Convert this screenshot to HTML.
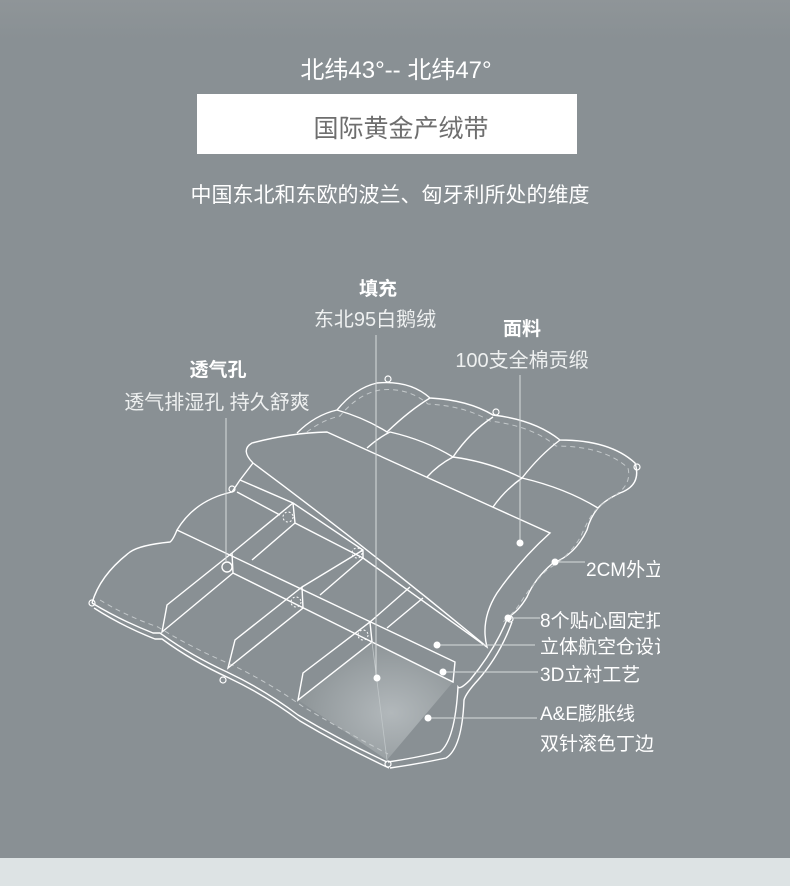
<!DOCTYPE html>
<html><head><meta charset="utf-8">
<style>
html,body{margin:0;padding:0}
body{width:790px;height:886px;position:relative;overflow:hidden;background:#899094;font-family:"Liberation Sans","Noto Sans CJK SC",sans-serif;color:#fff}
.t{position:absolute;white-space:nowrap}
.c{transform:translateX(-50%)}
</style></head><body>
<div style="position:absolute;left:0;top:0;width:790px;height:40px;background:linear-gradient(#8f9598,#899094)"></div>
<div class="t c" style="left:396px;top:50px;font-size:24px">北纬43°-- 北纬47°</div>
<div style="position:absolute;left:197px;top:94px;width:380px;height:60px;background:#fff"></div>
<div class="t c" style="left:401px;top:109px;font-size:25px;color:#6e6e6e">国际黄金产绒带</div>
<div class="t c" style="left:390px;top:179px;font-size:21px">中国东北和东欧的波兰、匈牙利所处的维度</div>

<div class="t c" style="left:378px;top:274px;font-size:19px;font-weight:bold">填充</div>
<div class="t c" style="left:375px;top:303px;font-size:20px;color:#eef0f0">东北95白鹅绒</div>
<div class="t c" style="left:522px;top:314px;font-size:19px;font-weight:bold">面料</div>
<div class="t c" style="left:522px;top:344px;font-size:20px;color:#eef0f0">100支全棉贡缎</div>
<div class="t c" style="left:218px;top:355px;font-size:19px;font-weight:bold">透气孔</div>
<div class="t c" style="left:217px;top:386px;font-size:20px;color:#eef0f0">透气排湿孔 持久舒爽</div>

<div style="position:absolute;left:0;top:0;width:660px;height:886px;overflow:hidden">
<div class="t" style="left:586px;top:555px;font-size:19px">2CM外立边</div>
<div class="t" style="left:540px;top:606px;font-size:19px">8个贴心固定扣</div>
<div class="t" style="left:540px;top:632px;font-size:19px">立体航空仓设计</div>
<div class="t" style="left:540px;top:660px;font-size:19px">3D立衬工艺</div>
<div class="t" style="left:540px;top:699px;font-size:19px">A&amp;E膨胀线</div>
<div class="t" style="left:540px;top:729px;font-size:19px">双针滚色丁边</div>
</div>

<svg width="790" height="886" style="position:absolute;left:0;top:0" fill="none" stroke="#fff" stroke-width="1.4">
<defs><radialGradient id="g" cx="0.6" cy="0.6" r="0.6"><stop offset="0" stop-color="#b2b8bb"/><stop offset="1" stop-color="#8e9598"/></radialGradient></defs>
<!-- fill area -->
<path d="M372,642 L298,700 L387,760 L453,682Z" fill="url(#g)" stroke="none"/>
<!-- outer outline top/right -->
<path d="M297,433 Q315,415 337,410 Q355,388 377,383 Q410,380 430,398 Q468,400 493,415 Q535,420 560,440 Q610,440 635,463 Q642,485 620,493 Q605,500 598,508 Q590,518 587,530 Q575,555 553,563 Q535,578 527,597 Q518,612 508,617 Q495,650 470,680 Q460,690 458,687 Q455,740 440,752 Q415,758 388,762"/>
<path d="M300,438 Q318,421 340,416 Q358,394 380,390 Q408,387 428,404 Q465,406 490,421 Q532,426 556,446 Q604,446 628,468 Q632,485 614,496 Q600,505 593,513 Q586,524 581,536 Q570,556 548,569 Q532,584 521,602 Q514,613 503,622" stroke="#c4c9cb" stroke-dasharray="5,4" stroke-width="1"/>
<path d="M512,622 Q500,655 478,680 Q466,693 464,700 Q462,748 446,758 Q418,764 390,768"/>
<!-- left outline -->
<path d="M253,463 L240,480 Q236,486 232,492 Q195,500 177,530 Q173,540 170,542 Q140,545 130,552 Q100,575 92,603"/>
<path d="M92,603 Q120,620 153,633 L160,633 Q190,655 227,672 Q265,690 298,715 Q340,740 387,762"/>
<path d="M94,608 Q122,626 155,639 L162,639 Q192,661 229,678 Q267,696 300,721 Q342,746 389,768"/>
<path d="M100,600 Q126,616 158,627 Q192,648 230,664 Q268,682 302,706 Q342,730 388,754" stroke="#c4c9cb" stroke-dasharray="5,4" stroke-width="1"/>
<!-- loops -->
<g stroke-width="1.2"><circle cx="388" cy="379" r="3"/><circle cx="496" cy="412" r="3"/><circle cx="637" cy="467" r="3"/>
<circle cx="232" cy="489" r="3"/><circle cx="92" cy="603" r="3"/><circle cx="223" cy="680" r="3"/><circle cx="388" cy="764" r="3"/><circle cx="510" cy="619" r="3"/></g>
<!-- top quilt lines -->
<path d="M337,410 Q365,418 387,432 Q410,410 430,398 M367,448 Q378,438 390,432 Q425,440 453,457 Q470,432 493,417 M453,457 Q438,465 427,477 M453,457 Q490,462 522,478 Q540,455 560,440 M522,478 Q565,488 598,508 M522,478 Q505,490 493,507"/>
<!-- flap -->
<path d="M327,432 L550,533 Q520,560 497,593 Q480,620 487,647 Q370,550 253,463 Q240,450 252,443 Q290,433 327,432Z" fill="#899094"/>
<!-- baffle grid -->
<path d="M177,530 L455,662 L453,682 L372,642 L233,573 L232,553"/>
<path d="M240,480 L293,503 L295,523 L363,558 L363,550 L293,503"/>
<path d="M237,492 L280,515"/>
<path d="M295,523 L252,560 M293,503 L232,553 M363,550 L302,587 M363,558 L320,595 M410,587 L370,622 M423,598 L387,628"/>
<path d="M363,558 L487,647"/>
<path d="M232,553 L167,605 L162,632 L233,573"/>
<path d="M302,587 L303,608 L228,668 L235,640 Z"/>
<path d="M370,622 L372,642 L298,700 L303,673 Z"/>
<path d="M372,642 L387,760" stroke="#c0c6c8" stroke-width="0.8"/>
<circle cx="227" cy="567" r="5"/>
<g stroke-dasharray="2,2" stroke-width="1"><circle cx="288" cy="517" r="5"/><circle cx="357" cy="553" r="5"/><circle cx="296" cy="602" r="5"/><circle cx="363" cy="635" r="5"/></g>
<!-- leader lines -->
<g stroke="#d8dcdd" stroke-width="1">
<path d="M376,335 V678 M520,375 V543 M226,418 V562 M555,562 H585 M508,618 H540 M437,645 H535 M443,672 H538 M428,718 H537"/>
</g>
<g fill="#fff" stroke="none">
<circle cx="377" cy="678" r="3.5"/><circle cx="520" cy="543" r="3.5"/><circle cx="555" cy="562" r="3.5"/><circle cx="508" cy="618" r="3.5"/><circle cx="437" cy="645" r="3.5"/><circle cx="443" cy="672" r="3.5"/><circle cx="428" cy="718" r="3.5"/>
</g>
</svg>
<div style="position:absolute;left:0;top:858px;width:790px;height:28px;background:#dde3e4"></div>
</body></html>
